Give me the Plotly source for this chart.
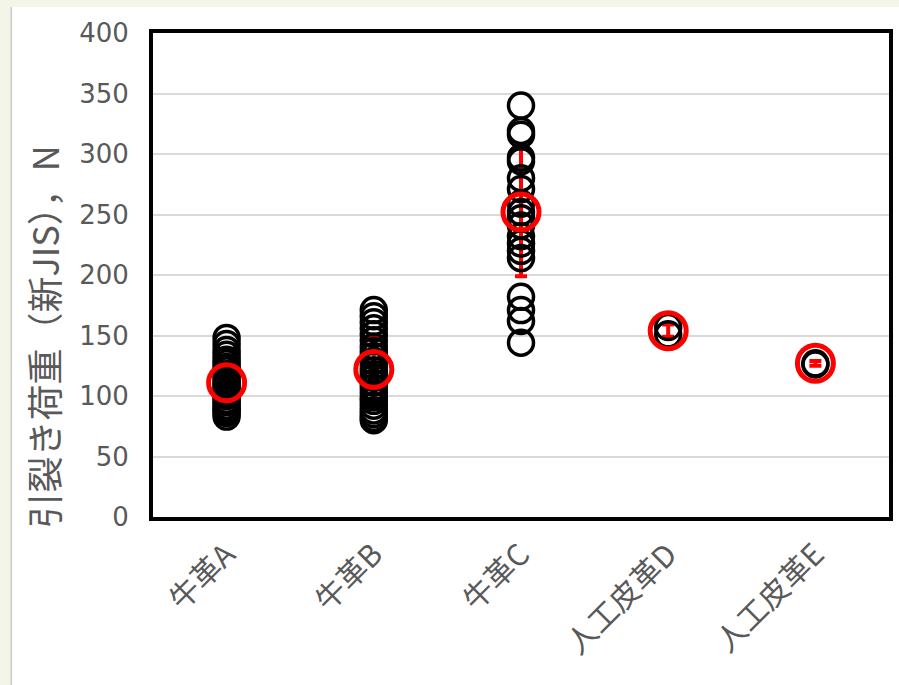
import plotly.graph_objects as go

categories = ["牛革A", "牛革B", "牛革C", "人工皮革D", "人工皮革E"]

vals_A = [148, 143, 138, 134, 130, 127, 124, 121, 118, 115, 112, 110, 108, 105, 102, 100, 97, 95, 92, 90, 88, 86, 83]
vals_B = [171, 166, 161, 156, 151, 146, 141, 137, 133, 129, 125, 121, 118, 115, 111, 107, 103, 99, 96, 92, 88, 85, 82, 80]
vals_C = [340, 319, 316, 297, 294, 280, 271, 259, 252, 247, 241, 232, 226, 220, 214, 182, 171, 162, 144]
vals_D = [157, 151]
vals_E = [127, 126]

means = [111, 122, 252, 154, 127]
sds = [16, 27, 53, 5, 2]

y_ticks = [0, 50, 100, 150, 200, 250, 300, 350, 400]
y_title = "引裂き荷重（新JIS），N"

groups = [vals_A, vals_B, vals_C, vals_D, vals_E]

fig = go.Figure()

# error bars (drawn underneath)
fig.add_trace(go.Scatter(
    x=categories, y=means, mode="markers",
    marker=dict(size=1, color="rgba(0,0,0,0)"),
    error_y=dict(type="data", array=sds, visible=True, color="#ff0000", thickness=4, width=6),
    showlegend=False, hoverinfo="skip",
))

# individual measurements
for cat, vals in zip(categories, groups):
    fig.add_trace(go.Scatter(
        x=[cat] * len(vals), y=vals, mode="markers",
        marker=dict(symbol="circle-open", size=25, color="#000000", line=dict(width=3.5, color="#000000")),
        showlegend=False,
    ))

# means
fig.add_trace(go.Scatter(
    x=categories, y=means, mode="markers",
    marker=dict(symbol="circle-open", size=36, color="#ff0000", line=dict(width=5, color="#ff0000")),
    showlegend=False,
))

L, R, T, B = 153, 6, 33, 168
W, H = 899, 685
pw = W - L - R
ph = H - T - B

def px2x(px):
    return (px - L) / pw

def px2y(py):
    return 1 - (py - T) / ph

shapes = [
    dict(type="rect", xref="paper", yref="paper", x0=px2x(10), x1=px2x(W + 5), y0=px2y(H + 5), y1=px2y(7),
         fillcolor="#ffffff", line=dict(width=0), layer="below"),
    dict(type="line", xref="paper", yref="paper", x0=px2x(10.5), x1=px2x(10.5), y0=px2y(H + 5), y1=px2y(7),
         line=dict(color="#c9cbc0", width=1.5), layer="below"),
]

annotations = [
    dict(text=y_title, xref="paper", yref="paper", x=px2x(42), y=px2y(337),
         xanchor="center", yanchor="middle", textangle=-90, showarrow=False,
         font=dict(size=36, family="Noto Sans CJK JP", color="#595959")),
]

fig.update_layout(
    width=W, height=H,
    margin=dict(l=L, r=R, t=T, b=B, pad=0),
    paper_bgcolor="#f3f5e8",
    plot_bgcolor="#ffffff",
    showlegend=False,
    shapes=shapes,
    annotations=annotations,
    font=dict(family="Noto Sans CJK JP", color="#595959"),
    xaxis=dict(
        type="category", categoryorder="array", categoryarray=categories,
        range=[-0.5, 4.5],
        showline=True, mirror=True, linecolor="#000000", linewidth=4,
        showgrid=False, zeroline=False, ticks="",
        tickangle=-45,
        ticklabelstandoff=4,
        tickfont=dict(size=30, family="Noto Sans CJK JP", color="#595959"),
    ),
    yaxis=dict(
        range=[0, 400], tickvals=y_ticks,
        showline=True, mirror=True, linecolor="#000000", linewidth=4,
        showgrid=True, gridcolor="#d9d9d9", gridwidth=2,
        zeroline=False, ticks="",
        ticklabelstandoff=15,
        tickfont=dict(size=26, family="DejaVu Sans", color="#595959"),
    ),
)

fig.write_html("out.html")
